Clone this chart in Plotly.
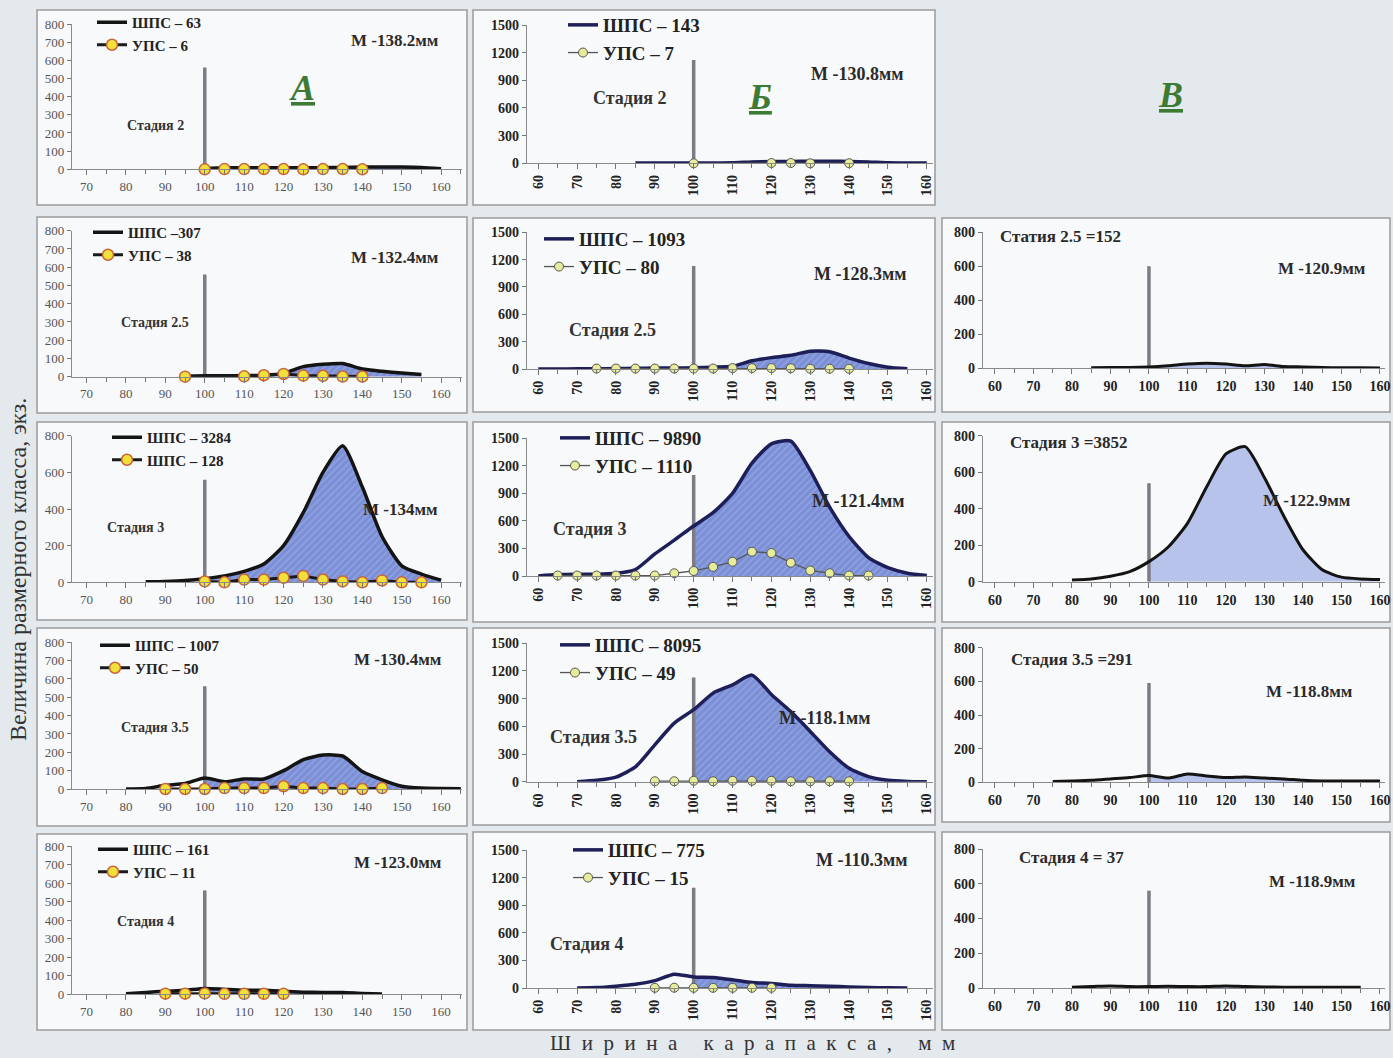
import plotly.graph_objects as go

W, H = 1393, 1058
SERIF = "Liberation Serif"

# ---------------- DATA ----------------
# Column A
a1_shps_x = [100, 105, 110, 115, 120, 125, 130, 135, 140, 145, 150, 155, 160]
a1_shps_y = [5, 8, 8, 8, 8, 8, 9, 10, 12, 12, 12, 10, 3]
a1_ups_x = [100, 105, 110, 115, 120, 125, 130, 135, 140]
a1_ups_y = [0, 1, 1, 1, 1, 0, 1, 1, 0]

a2_shps_x = [95, 100, 105, 110, 115, 120, 125, 130, 135, 140, 145, 150, 155]
a2_shps_y = [3, 5, 5, 6, 8, 18, 55, 68, 72, 42, 30, 20, 12]
a2_ups_x = [95, 110, 115, 120, 125, 130, 135, 140]
a2_ups_y = [0, 2, 8, 15, 6, 5, 1, 1]

a3_shps_x = [85, 90, 95, 100, 105, 110, 115, 120, 125, 130, 135, 140, 145, 150, 155, 160]
a3_shps_y = [3, 5, 10, 20, 35, 60, 100, 200, 380, 600, 745, 520, 250, 90, 45, 12]
a3_ups_x = [100, 105, 110, 115, 120, 125, 130, 135, 140, 145, 150, 155]
a3_ups_y = [5, 0, 15, 15, 25, 35, 15, 5, 0, 10, 0, 0]

a4_shps_x = [80, 85, 90, 95, 100, 105, 110, 115, 120, 125, 130, 135, 140, 145, 150, 155, 160, 165]
a4_shps_y = [0, 3, 20, 30, 60, 40, 55, 55, 100, 160, 185, 180, 95, 50, 15, 5, 3, 2]
a4_ups_x = [90, 95, 100, 105, 110, 115, 120, 125, 130, 135, 140, 145]
a4_ups_y = [0, 0, 0, 5, 5, 5, 15, 5, 5, 0, 0, 5]

a5_shps_x = [80, 85, 90, 95, 100, 105, 110, 115, 120, 125, 130, 135, 140, 145]
a5_shps_y = [2, 8, 15, 20, 30, 25, 20, 20, 15, 10, 8, 8, 3, 0]
a5_ups_x = [90, 95, 100, 105, 110, 115, 120]
a5_ups_y = [2, 2, 3, 1, 1, 1, 1]

# Column B
b1_shps_x = [85, 90, 95, 100, 105, 110, 115, 120, 125, 130, 135, 140, 145, 150, 155, 160]
b1_shps_y = [3, 3, 3, 3, 3, 5, 15, 20, 20, 22, 22, 20, 15, 5, 3, 3]
b1_ups_x = [100, 120, 125, 130, 140]
b1_ups_y = [0, 3, 3, 0, 1]

b2_shps_x = [60, 65, 70, 75, 80, 85, 90, 95, 100, 105, 110, 115, 120, 125, 130, 135, 140, 145, 150, 155]
b2_shps_y = [0, 0, 2, 3, 5, 8, 10, 10, 15, 20, 30, 90, 125, 150, 195, 190, 120, 60, 20, 3]
b2_ups_x = [75, 80, 85, 90, 95, 100, 105, 110, 115, 120, 125, 130, 135, 140]
b2_ups_y = [5, 5, 5, 5, 5, 5, 5, 10, 10, 10, 8, 3, 3, 3]

b3_shps_x = [60, 65, 70, 75, 80, 85, 90, 95, 100, 105, 110, 115, 120, 125, 130, 135, 140, 145, 150, 155, 160]
b3_shps_y = [0, 15, 20, 20, 30, 70, 240, 390, 545, 690, 900, 1230, 1440, 1470, 1150, 750, 430, 200, 90, 30, 5]
b3_ups_x = [65, 70, 75, 80, 85, 90, 95, 100, 105, 110, 115, 120, 125, 130, 135, 140, 145]
b3_ups_y = [5, 5, 5, 5, 5, 5, 30, 55, 100, 155, 265, 250, 145, 60, 30, 5, 5]

b4_shps_x = [70, 75, 80, 85, 90, 95, 100, 105, 110, 115, 120, 125, 130, 135, 140, 145, 150, 155, 160]
b4_shps_y = [0, 15, 50, 160, 400, 635, 780, 960, 1050, 1155, 945, 760, 545, 325, 145, 55, 15, 3, 0]
b4_ups_x = [90, 95, 100, 105, 110, 115, 120, 125, 130, 135, 140]
b4_ups_y = [5, 5, 10, 5, 10, 10, 10, 5, 5, 5, 5]

b5_shps_x = [70, 75, 80, 85, 90, 95, 100, 105, 110, 115, 120, 125, 130, 135, 140, 145, 150, 155]
b5_shps_y = [0, 5, 20, 40, 80, 150, 120, 115, 90, 60, 50, 30, 25, 20, 10, 5, 3, 0]
b5_ups_x = [90, 95, 100, 105, 110, 115, 120]
b5_ups_y = [2, 3, 2, 2, 2, 2, 2]

# Column C (no panel in row 1)
c2_x = [85, 90, 95, 100, 105, 110, 115, 120, 125, 130, 135, 140, 145, 150, 155, 160]
c2_y = [3, 5, 5, 8, 15, 25, 30, 25, 15, 22, 10, 8, 5, 3, 3, 2]
c3_x = [80, 85, 90, 95, 100, 105, 110, 115, 120, 125, 130, 135, 140, 145, 150, 155, 160]
c3_y = [10, 15, 30, 55, 110, 190, 320, 520, 700, 740, 570, 360, 175, 65, 25, 15, 12]
c4_x = [75, 80, 85, 90, 95, 100, 105, 110, 115, 120, 125, 130, 135, 140, 145, 150, 155, 160]
c4_y = [5, 8, 12, 20, 28, 40, 25, 50, 38, 28, 32, 25, 20, 12, 8, 8, 8, 8]
c5_x = [80, 85, 90, 95, 100, 105, 110, 115, 120, 125, 130, 135, 140, 145, 150, 155]
c5_y = [5, 8, 12, 8, 8, 10, 8, 8, 12, 8, 6, 5, 5, 5, 5, 5]

# reference line at 100 mm (height of grey bar)
ref_x = 100
a_ref_h = [560, 560, 560, 560, 560]
b_ref_h = [1120, 1130, 1100, 1130, 1090]
c_ref_h = [600, 540, 590, 560]

# texts
a_leg_shps = ["ШПС – 63", "ШПС –307", "ШПС – 3284", "ШПС – 1007", "ШПС – 161"]
a_leg_ups = ["УПС – 6", "УПС – 38", "ШПС – 128", "УПС – 50", "УПС – 11"]
b_leg_shps = ["ШПС – 143", "ШПС – 1093", "ШПС – 9890", "ШПС – 8095", "ШПС – 775"]
b_leg_ups = ["УПС – 7", "УПС – 80", "УПС – 1110", "УПС – 49", "УПС – 15"]
stages = ["Стадия 2", "Стадия 2.5", "Стадия 3", "Стадия 3.5", "Стадия 4"]
a_mean = ["М -138.2мм", "М -132.4мм", "М -134мм", "М -130.4мм", "М -123.0мм"]
b_mean = ["М -130.8мм", "М -128.3мм", "М -121.4мм", "М -118.1мм", "М -110.3мм"]
c_stage = ["Статия 2.5 =152", "Стадия 3 =3852", "Стадия 3.5 =291", "Стадия 4 = 37"]
c_mean = ["М -120.9мм", "М -122.9мм", "М -118.8мм", "М -118.9мм"]
col_letters = ["А", "Б", "В"]

a_xticks = [70, 80, 90, 100, 110, 120, 130, 140, 150, 160]
bc_xticks = [60, 70, 80, 90, 100, 110, 120, 130, 140, 150, 160]
a_yticks_100 = [0, 100, 200, 300, 400, 500, 600, 700, 800]
a_yticks_200 = [0, 200, 400, 600, 800]
b_yticks = [0, 300, 600, 900, 1200, 1500]
c_yticks = [0, 200, 400, 600, 800]

x_title = "Ширина карапакса, мм"
y_title = "Величина размерного класса, экз."

# ---------------- LAYOUT GEOMETRY (pixels) ----------------
def fx(p):
    return p / W


def fy(p):
    return 1 - p / H


A_DOM = (72, 462); A_RNG = [66.3, 165.3]
B_DOM = (527, 933); B_RNG = [57.1, 161.6]
C_DOM = (983, 1385); C_RNG = [56.9, 161.3]
A_Y = [(24, 169.3), (230.7, 376.7), (435.7, 582.3), (642.3, 789), (846, 994)]
B_Y = [(25, 163.3), (232.3, 369), (438.3, 576), (643.3, 781.7), (850, 988)]
C_Y = [(232.3, 368.3), (435.7, 581.7), (647.7, 782.3), (849, 988)]
A_BOX = [(10, 205), (217, 413), (422, 620), (628, 826), (834, 1030)]
B_BOX = [(10, 205), (218, 412), (422, 622), (628, 825), (832, 1030)]
C_BOX = [(218, 412), (422, 622), (628, 822), (832, 1030)]
A_BOXX = (37, 467); B_BOXX = (473, 935); C_BOXX = (942, 1390)

# legend top-left (px)
A_LEG = [(92, 6), (88, 216), (107, 421), (95, 629), (93, 833)]
B_LEG = [(563, 6), (539, 220), (555, 419), (555, 626), (568, 831)]
# annotation positions (px centres)
A_MEAN_POS = [(395, 40), (395, 257), (400, 510), (398, 659), (398, 862)]
A_STAGE_POS = [(155, 125), (155, 323), (135, 527), (155, 727), (145, 921)]
B_MEAN_POS = [(857, 74), (860, 274), (858, 501), (825, 718), (862, 860)]
B_STAGE_POS = [(630, 98), (612, 330), (590, 529), (593, 737), (587, 944)]
C_STAGE_POS = [(1060, 236), (1068, 442), (1072, 659), (1071, 857)]
C_MEAN_POS = [(1322, 268), (1307, 500), (1309, 691), (1312, 881)]
LETTER_POS = [(302, 88), (760, 97), (1170, 95)]

a_shps = [(a1_shps_x, a1_shps_y), (a2_shps_x, a2_shps_y), (a3_shps_x, a3_shps_y),
          (a4_shps_x, a4_shps_y), (a5_shps_x, a5_shps_y)]
a_ups = [(a1_ups_x, a1_ups_y), (a2_ups_x, a2_ups_y), (a3_ups_x, a3_ups_y),
         (a4_ups_x, a4_ups_y), (a5_ups_x, a5_ups_y)]
b_shps = [(b1_shps_x, b1_shps_y), (b2_shps_x, b2_shps_y), (b3_shps_x, b3_shps_y),
          (b4_shps_x, b4_shps_y), (b5_shps_x, b5_shps_y)]
b_ups = [(b1_ups_x, b1_ups_y), (b2_ups_x, b2_ups_y), (b3_ups_x, b3_ups_y),
         (b4_ups_x, b4_ups_y), (b5_ups_x, b5_ups_y)]
c_data = [(c2_x, c2_y), (c3_x, c3_y), (c4_x, c4_y), (c5_x, c5_y)]

fig = go.Figure()
layout = dict(
    width=W, height=H, margin=dict(l=0, r=0, t=0, b=0, autoexpand=False),
    paper_bgcolor="#e4e9ed", plot_bgcolor="rgba(0,0,0,0)",
    font=dict(family=SERIF, color="#222"),
    showlegend=True,
)
shapes = []
annotations = []

HATCH = dict(shape="/", bgcolor="#7b8fd7", fgcolor="#a9b6e8", size=5, solidity=0.3)

panel_idx = [0]
legend_idx = [0]


def add_axes(xdom, xrng, ydom, yrng, xticks, yticks, col):
    panel_idx[0] += 1
    k = panel_idx[0]
    xn = "xaxis" if k == 1 else f"xaxis{k}"
    yn = "yaxis" if k == 1 else f"yaxis{k}"
    xr = "x" if k == 1 else f"x{k}"
    yr = "y" if k == 1 else f"y{k}"
    bold = col != "A"
    tfont = dict(family=SERIF, size=14 if bold else 13, color="#222" if bold else "#555",
                 weight="bold" if bold else "normal")
    layout[xn] = dict(
        domain=[fx(xdom[0]), fx(xdom[1])], range=xrng, anchor=yr, automargin=False,
        showgrid=False, zeroline=False, showline=True, linecolor="#8a8a8a", linewidth=1.3,
        ticks="outside", ticklen=5, tickcolor="#777", tickvals=xticks,
        tickangle=-90 if col == "B" else 0, tickfont=tfont,
        minor=dict(ticks="outside", dtick=5, tick0=0, ticklen=4, tickcolor="#777"),
        fixedrange=True,
    )
    layout[yn] = dict(
        domain=[fy(ydom[1]), fy(ydom[0])], range=yrng, anchor=xr, automargin=False,
        showgrid=False, zeroline=False, showline=True, linecolor="#8a8a8a", linewidth=1.3,
        ticks="outside", ticklen=4, tickcolor="#777", tickvals=yticks, tickfont=tfont,
        fixedrange=True,
    )
    return xr, yr


def next_legend(pos, size):
    legend_idx[0] += 1
    n = legend_idx[0]
    name = "legend" if n == 1 else f"legend{n}"
    layout[name] = dict(
        x=fx(pos[0]), y=fy(pos[1]), xanchor="left", yanchor="top",
        bgcolor="rgba(0,0,0,0)", borderwidth=0, tracegroupgap=0,
        font=dict(family=SERIF, size=size, color="#222", weight="bold"),
        itemwidth=30, traceorder="normal",
    )
    return name


def txt(pos, text, size, color="#2a2a2a", **kw):
    annotations.append(dict(
        x=fx(pos[0]), y=fy(pos[1]), xref="paper", yref="paper", text=text,
        showarrow=False, xanchor="center", yanchor="middle",
        font=dict(family=SERIF, size=size, color=color, weight="bold"), **kw))


def box(bx, by):
    shapes.append(dict(type="rect", xref="paper", yref="paper", layer="below",
                       x0=fx(bx[0]), x1=fx(bx[1]), y0=fy(by[1]), y1=fy(by[0]),
                       fillcolor="#f8f9fa", line=dict(color="#9a9a9a", width=1.5)))


def fill_part(xs, ys):
    px = [x for x in xs if x >= ref_x]
    py = [y for x, y in zip(xs, ys) if x >= ref_x]
    return px, py


# ----- Column A -----
for i in range(5):
    box(A_BOXX, A_BOX[i])
    yt = a_yticks_200 if i == 2 else a_yticks_100
    xr, yr = add_axes(A_DOM, A_RNG, A_Y[i], [0, 800], a_xticks, yt, "A")
    lg = next_legend(A_LEG[i], 15)
    sx, sy = a_shps[i]
    ux, uy = a_ups[i]
    fxs, fys = fill_part(sx, sy)
    fig.add_trace(go.Scatter(x=fxs, y=fys, xaxis=xr, yaxis=yr, mode="lines",
                             line=dict(width=0, shape="spline", smoothing=0.6),
                             fill="tozeroy", fillcolor="#7b8fd7", fillpattern=HATCH,
                             showlegend=False, hoverinfo="skip", cliponaxis=False))
    fig.add_trace(go.Scatter(x=[ref_x, ref_x], y=[0, a_ref_h[i]], xaxis=xr, yaxis=yr,
                             mode="lines", line=dict(color="#7c7c84", width=3.5),
                             showlegend=False, hoverinfo="skip"))
    fig.add_trace(go.Scatter(x=sx, y=sy, xaxis=xr, yaxis=yr, mode="lines",
                             name=a_leg_shps[i], legend=lg,
                             line=dict(color="#141414", width=3.5, shape="spline", smoothing=0.6),
                             cliponaxis=False))
    fig.add_trace(go.Scatter(x=ux, y=uy, xaxis=xr, yaxis=yr, mode="lines+markers",
                             name=a_leg_ups[i], legend=lg,
                             line=dict(color="#1a1a1a", width=3),
                             marker=dict(size=11, color="#f2e03a",
                                         line=dict(color="#c8643c", width=1.5)),
                             cliponaxis=False))
    txt(A_MEAN_POS[i], a_mean[i], 17)
    txt(A_STAGE_POS[i], stages[i], 14, color="#333")

# ----- Column B -----
for i in range(5):
    box(B_BOXX, B_BOX[i])
    xr, yr = add_axes(B_DOM, B_RNG, B_Y[i], [0, 1500], bc_xticks, b_yticks, "B")
    lg = next_legend(B_LEG[i], 19)
    sx, sy = b_shps[i]
    ux, uy = b_ups[i]
    fxs, fys = fill_part(sx, sy)
    fig.add_trace(go.Scatter(x=fxs, y=fys, xaxis=xr, yaxis=yr, mode="lines",
                             line=dict(width=0, shape="spline", smoothing=0.6),
                             fill="tozeroy", fillcolor="#7b8fd7", fillpattern=HATCH,
                             showlegend=False, hoverinfo="skip", cliponaxis=False))
    fig.add_trace(go.Scatter(x=[ref_x, ref_x], y=[0, b_ref_h[i]], xaxis=xr, yaxis=yr,
                             mode="lines", line=dict(color="#7c7c84", width=3.5),
                             showlegend=False, hoverinfo="skip"))
    fig.add_trace(go.Scatter(x=sx, y=sy, xaxis=xr, yaxis=yr, mode="lines",
                             name=b_leg_shps[i], legend=lg,
                             line=dict(color="#1e1e58", width=3.5, shape="spline", smoothing=0.6),
                             cliponaxis=False))
    fig.add_trace(go.Scatter(x=ux, y=uy, xaxis=xr, yaxis=yr, mode="lines+markers",
                             name=b_leg_ups[i], legend=lg,
                             line=dict(color="#555555", width=1.3),
                             marker=dict(size=9, color="#e6ec9a",
                                         line=dict(color="#555", width=1)),
                             cliponaxis=False))
    txt(B_MEAN_POS[i], b_mean[i], 18)
    txt(B_STAGE_POS[i], stages[i], 18, color="#333")

# ----- Column C -----
for i in range(4):
    box(C_BOXX, C_BOX[i])
    xr, yr = add_axes(C_DOM, C_RNG, C_Y[i], [0, 800], bc_xticks, c_yticks, "C")
    cx, cy = c_data[i]
    fxs, fys = fill_part(cx, cy)
    fig.add_trace(go.Scatter(x=fxs, y=fys, xaxis=xr, yaxis=yr, mode="lines",
                             line=dict(width=0, shape="spline", smoothing=0.6),
                             fill="tozeroy", fillcolor="#b8c3ec",
                             showlegend=False, hoverinfo="skip", cliponaxis=False))
    fig.add_trace(go.Scatter(x=[ref_x, ref_x], y=[0, c_ref_h[i]], xaxis=xr, yaxis=yr,
                             mode="lines", line=dict(color="#7c7c84", width=3.5),
                             showlegend=False, hoverinfo="skip"))
    fig.add_trace(go.Scatter(x=cx, y=cy, xaxis=xr, yaxis=yr, mode="lines",
                             line=dict(color="#141414", width=3, shape="spline", smoothing=0.6),
                             showlegend=False, cliponaxis=False))
    txt(C_STAGE_POS[i], c_stage[i], 17)
    txt(C_MEAN_POS[i], c_mean[i], 17)

# column letters
for pos, letter in zip(LETTER_POS, col_letters):
    txt(pos, f"<i><u>{letter}</u></i>", 36, color="#3d7a33")

# axis titles (x title letter-spaced as in the original)
x_title_spaced = "\u2002".join(x_title)
annotations.append(dict(x=fx(18), y=fy(570), xref="paper", yref="paper", text=y_title,
                        textangle=-90, showarrow=False, xanchor="center", yanchor="middle",
                        font=dict(family=SERIF, size=24, color="#333")))
annotations.append(dict(x=fx(752), y=fy(1043), xref="paper", yref="paper", text=x_title_spaced,
                        showarrow=False, xanchor="center", yanchor="middle",
                        font=dict(family=SERIF, size=21, color="#333")))

layout["shapes"] = shapes
layout["annotations"] = annotations
fig.update_layout(**layout)
fig.write_html(
    "out.html",
    config={"displayModeBar": False},
    post_script="document.body.style.margin='0px';document.body.style.overflow='hidden';",
)
